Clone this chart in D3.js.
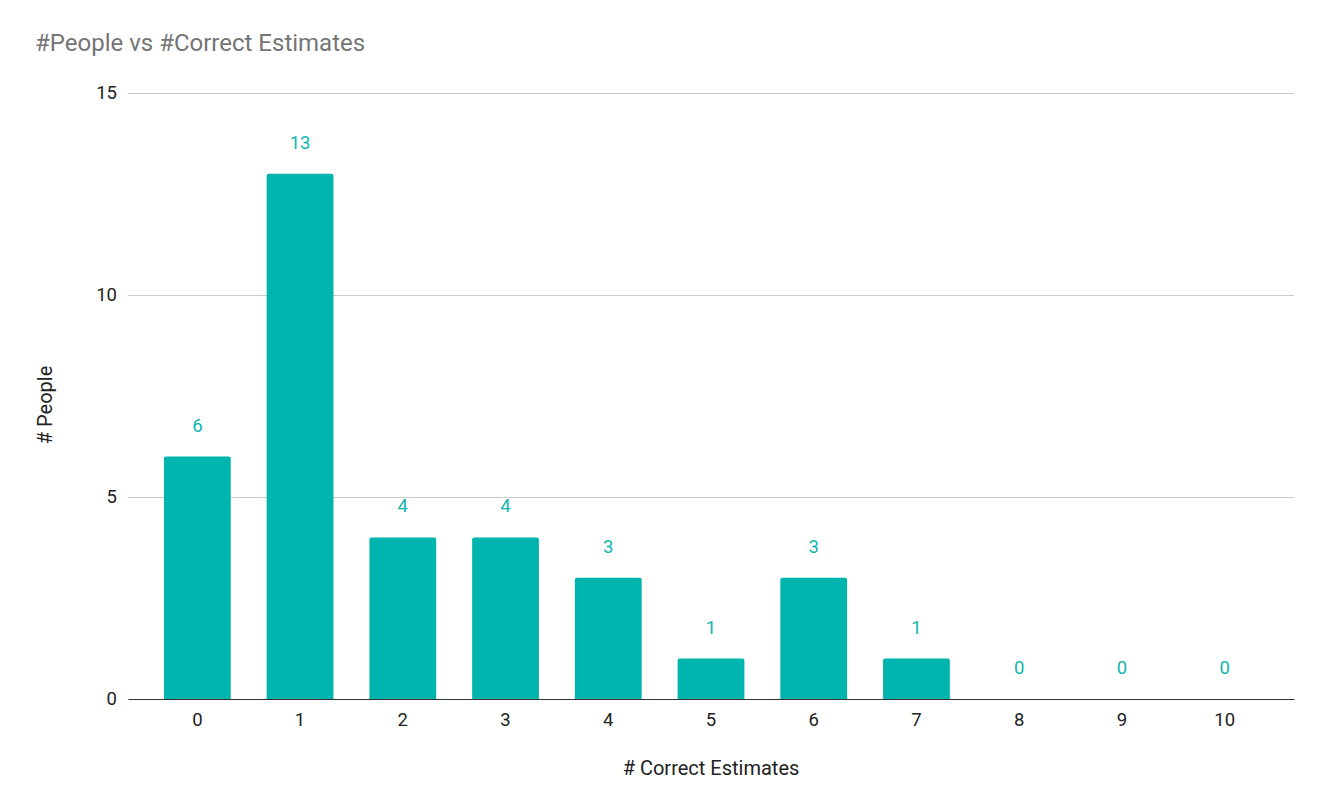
<!DOCTYPE html>
<html>
<head>
<meta charset="utf-8">
<script src="https://cdn.jsdelivr.net/npm/d3@7"></script>
<style>
  body { margin: 0; background: #fff; }
  svg text { font-family: Roboto, "Noto Sans", sans-serif; }
</style>
</head>
<body>
<div class="barchart"></div>
<script>
// chart data
const categories = ["0", "1", "2", "3", "4", "5", "6", "7", "8", "9", "10"];
const people = [6, 13, 4, 4, 3, 1, 3, 1, 0, 0, 0];
const yTicks = [0, 5, 10, 15];

const width = 1318;
const height = 807;
const margin = { top: 93, right: 24, bottom: 108, left: 128 };
const barColor = "#00b5ad";
const tickSize = 18.5;

const svg = d3
  .select(".barchart")
  .append("svg")
  .attr("width", width)
  .attr("height", height);

const x = d3
  .scaleBand()
  .domain(categories)
  .range([margin.left, width - margin.right])
  .paddingInner(0.35)
  .paddingOuter(0.35);

const y = d3
  .scaleLinear()
  .domain([0, 15])
  .range([height - margin.bottom, margin.top]);

// Title
svg
  .append("text")
  .attr("x", 35)
  .attr("y", 51)
  .attr("font-size", 24)
  .attr("fill", "#757575")
  .text("#People vs #Correct Estimates");

// Gridlines + y labels
const yAxis = svg
  .append("g")
  .attr("transform", `translate(${margin.left}, 0)`)
  .call(
    d3.axisLeft(y)
      .tickValues(yTicks)
      .tickSize(-(width - margin.left - margin.right))
      .tickPadding(11)
  );
yAxis.select(".domain").remove();
yAxis.selectAll(".tick line").attr("stroke", "#cccccc");
yAxis
  .selectAll(".tick text")
  .attr("font-size", tickSize)
  .attr("fill", "#222");

// Bars
svg
  .append("g")
  .selectAll("path")
  .data(people)
  .enter()
  .append("path")
  .attr("fill", barColor)
  .attr("d", (d, i) => {
    const x0 = x(categories[i]);
    const w = x.bandwidth();
    const y0 = y(0);
    const y1 = y(d);
    if (d === 0) return "";
    const r = 2;
    return `M${x0},${y0}V${y1 + r}Q${x0},${y1} ${x0 + r},${y1}H${x0 + w - r}Q${x0 + w},${y1} ${x0 + w},${y1 + r}V${y0}Z`;
  });

// Value labels
svg
  .append("g")
  .selectAll("text")
  .data(people)
  .enter()
  .append("text")
  .attr("x", (d, i) => x(categories[i]) + x.bandwidth() / 2)
  .attr("y", (d) => y(d) - 25)
  .attr("text-anchor", "middle")
  .attr("font-size", tickSize)
  .attr("fill", "#12b5ae")
  .text((d) => d);

// x axis
const xAxis = svg
  .append("g")
  .attr("transform", `translate(0, ${y(0)})`)
  .call(d3.axisBottom(x).tickSize(0).tickPadding(14).tickSizeOuter(0));
xAxis.select(".domain").attr("stroke", "#333").attr("stroke-width", 1.2);
xAxis
  .selectAll(".tick text")
  .attr("font-size", tickSize)
  .attr("fill", "#222");

// Axis titles
svg
  .append("text")
  .attr("x", (margin.left + width - margin.right) / 2)
  .attr("y", 775)
  .attr("text-anchor", "middle")
  .attr("font-size", 20)
  .attr("fill", "#222")
  .text("# Correct Estimates");

svg
  .append("text")
  .attr("transform", `translate(52, ${(margin.top + height - margin.bottom) / 2 + 9}) rotate(-90)`)
  .attr("text-anchor", "middle")
  .attr("font-size", 20)
  .attr("fill", "#222")
  .text("# People");
</script>
</body>
</html>
